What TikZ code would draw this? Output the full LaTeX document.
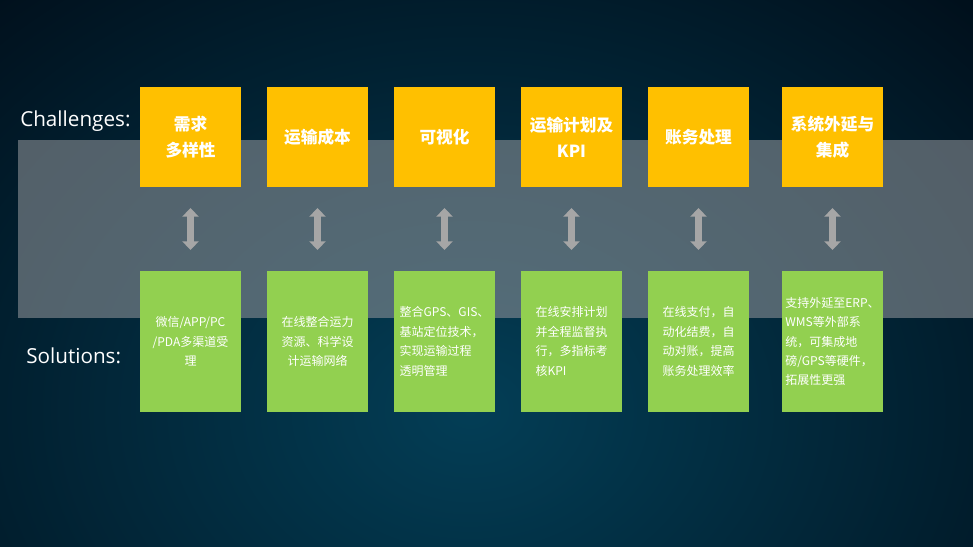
\documentclass[tikz,border=0pt]{standalone}
\usepackage{fontspec}
\setmainfont{Open Sans}
\newfontfamily\cjk{Noto Sans CJK SC}
\usetikzlibrary{arrows.meta,positioning}
\definecolor{bgdark}{HTML}{000812}
\definecolor{glowteal}{HTML}{033E56}
\definecolor{bandgray}{HTML}{8F9398}
\definecolor{chalorange}{HTML}{FFC000}
\definecolor{solgreen}{HTML}{92D050}
\definecolor{arrowgray}{HTML}{A6A6A6}

\begin{document}
\begin{tikzpicture}[
  x=0.75pt, y=-0.75pt,
  node distance=19.5pt and 19.5pt,
  challenge/.style={fill=chalorange, minimum width=75.75pt, minimum height=75pt, inner sep=0pt, outer sep=0pt, text=white, align=center, font=\cjk\bfseries\fontsize{12.5}{19.5}\selectfont},
  solution/.style={fill=solgreen, minimum width=75.75pt, minimum height=105.75pt, inner sep=0pt, outer sep=0pt, text=white, align=#1, font=\cjk\fontsize{9}{14.6}\selectfont},
  solution/.default=left,
  heading/.style={anchor=west, inner sep=0pt, text=white, font=\fontsize{15.5}{18}\selectfont},
  bothway/.style={{Triangle[length=6.5pt,width=12pt]}-{Triangle[length=6.5pt,width=12pt]}, line width=5.25pt, color=arrowgray, shorten <=15.75pt, shorten >=15.75pt},
]
  \useasboundingbox (0,0) rectangle (973,546);
  \fill[bgdark] (0,0) rectangle (973,546);
  \begin{scope}
    \clip (0,0) rectangle (973,546);
    \shade[inner color=glowteal, outer color=bgdark] (-370,-250) rectangle (1310,1070);
  \end{scope}
  \fill[bandgray, opacity=0.58] (18,140) rectangle (973,318);

  \node[heading] (chal) at (20,121) {Challenges:};
  \node[heading] (sol)  at (26,356) {Solutions:};

  \node[challenge] (c1) at (190.5,137) {需求\\多样性};
  \node[challenge, right=of c1] (c2) {运输成本};
  \node[challenge, right=of c2] (c3) {可视化};
  \node[challenge, right=of c3] (c4) {运输计划及\\KPI};
  \node[challenge, right=of c4] (c5) {账务处理};
  \node[challenge, right=24.75pt of c5] (c6) {系统外延与\\集成};

  \node[solution=center, below=63pt of c1] (s1) {微信/APP/PC\\/PDA多渠道受\\理};
  \node[solution=center, below=63pt of c2] (s2) {在线整合运力\\资源、科学设\\计运输网络};
  \node[solution, below=63pt of c3] (s3) {整合GPS、GIS、\\基站定位技术，\\实现运输过程\\透明管理};
  \node[solution, below=63pt of c4] (s4) {在线安排计划\\并全程监督执\\行，多指标考\\核KPI};
  \node[solution, below=63pt of c5] (s5) {在线支付，自\\动化结费，自\\动对账，提高\\账务处理效率};
  \node[solution, below=63pt of c6] (s6) {支持外延至ERP、\\WMS等外部系\\统，可集成地\\磅/GPS等硬件，\\拓展性更强};

  \draw[bothway] (c1) -- (s1);
  \draw[bothway] (c2) -- (s2);
  \draw[bothway] (c3) -- (s3);
  \draw[bothway] (c4) -- (s4);
  \draw[bothway] (c5) -- (s5);
  \draw[bothway] (c6) -- (s6);
\end{tikzpicture}
\end{document}
